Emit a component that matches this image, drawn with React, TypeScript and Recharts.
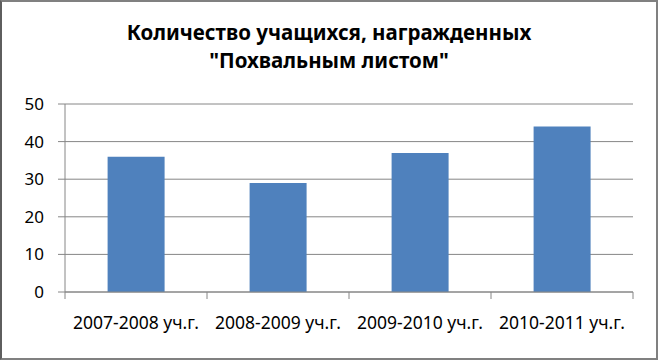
import React from "react";
import { BarChart, Bar, XAxis, YAxis, CartesianGrid } from "recharts";

// данные с графика
const categories = ["2007-2008 уч.г.", "2008-2009 уч.г.", "2009-2010 уч.г.", "2010-2011 уч.г."];
const students = [36, 29, 37, 44];
const yTicks = [0, 10, 20, 30, 40, 50];
const titleLines = ["Количество учащихся, награжденных", "\"Похвальным листом\""];

const data = categories.map((name, i) => ({ name, value: students[i] }));

const FONT = "'Noto Sans', sans-serif";
const GRID = "#868686";

// подпись категории + засечки по границам категорий (как в Excel)
function CategoryTick(props: any) {
  const { x, y, payload, index, visibleTicksCount, width } = props;
  const count = visibleTicksCount || categories.length;
  const half = Number(width) / count / 2;
  return (
    <g>
      <line x1={x - half} x2={x - half} y1={y} y2={y + 7} stroke={GRID} />
      {index === count - 1 && (
        <line x1={x + half} x2={x + half} y1={y} y2={y + 7} stroke={GRID} />
      )}
      <text x={x} y={y + 37} textAnchor="middle" fill="#000" fontSize={17.5} fontFamily={FONT}>
        {payload.value}
      </text>
    </g>
  );
}

export default function App() {
  return (
    <div
      style={{
        position: "absolute",
        left: 0,
        top: 0,
        width: 658,
        height: 360,
        boxSizing: "border-box",
        border: "2px solid #808080",
        borderLeftColor: "#5e5e5e",
        background: "#fff",
      }}
    >
      <div
        style={{
          position: "absolute",
          left: 0,
          top: 16,
          width: 654,
          textAlign: "center",
          fontFamily: FONT,
          fontWeight: 700,
          fontSize: 20.5,
          lineHeight: "28px",
          color: "#000",
        }}
      >
        {titleLines.map((t) => (
          <div key={t}>{t}</div>
        ))}
      </div>
      <BarChart
        width={654}
        height={356}
        data={data}
        margin={{ top: 102, right: 23, bottom: 0, left: 0 }}
        barCategoryGap="30%"
      >
        <CartesianGrid vertical={false} stroke={GRID} strokeDasharray="" />
        <XAxis
          dataKey="name"
          height={66}
          axisLine={{ stroke: GRID }}
          tickLine={false}
          tickSize={0}
          tickMargin={0}
          interval={0}
          tick={<CategoryTick />}
        />
        <YAxis
          width={63}
          domain={[0, 50]}
          ticks={yTicks}
          interval={0}
          axisLine={{ stroke: GRID }}
          tickLine={{ stroke: GRID }}
          tickSize={7}
          tickMargin={14}
          tick={{ fill: "#000", fontSize: 17, fontFamily: FONT }}
        />
        <Bar dataKey="value" fill="#4F81BD" isAnimationActive={false} />
      </BarChart>
    </div>
  );
}
